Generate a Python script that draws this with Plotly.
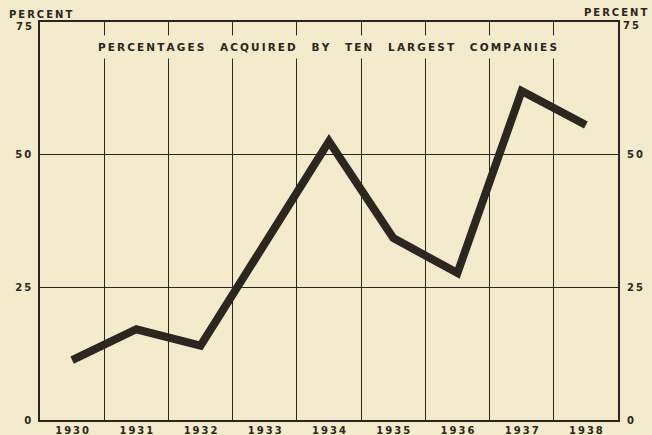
import plotly.graph_objects as go

years = [1930, 1931, 1932, 1933, 1934, 1935, 1936, 1937, 1938]
pct = [11.3, 17.1, 14.0, 33.0, 52.5, 34.3, 27.7, 62.0, 55.6]
year_labels = ["1930", "1931", "1932", "1933", "1934", "1935", "1936", "1937", "1938"]
y_ticks = [0, 25, 50, 75]
y_tick_labels = ["0", "25", "50", ""]
title_text = "PERCENTAGES ACQUIRED BY TEN LARGEST COMPANIES"
unit_text = "PERCENT"
top_label = "75"

TS = "\u2009"


def spaced(s, word_gap="\u2002\u2002"):
    return word_gap.join(TS.join(list(w)) for w in s.split(" "))


bg = "#f3ebcc"
ink = "#2b2620"
font_family = "DejaVu Sans"

fig = go.Figure()
fig.add_trace(go.Scatter(
    x=years, y=pct, mode="lines",
    line=dict(color=ink, width=8),
    hoverinfo="skip", showlegend=False,
))
fig.add_trace(go.Scatter(
    x=years, y=pct, mode="lines", yaxis="y2",
    line=dict(color=bg, width=0), opacity=0,
    hoverinfo="skip", showlegend=False,
))

tick_font = dict(family=font_family, size=10, color=ink, weight="bold")

fig.update_layout(
    width=652, height=435,
    margin=dict(l=40, r=34, t=22, b=15),
    paper_bgcolor=bg, plot_bgcolor=bg,
    showlegend=False,
    xaxis=dict(
        range=[1929.5, 1938.5],
        tickmode="array", tickvals=years,
        ticktext=[spaced(t) for t in year_labels],
        tickfont=tick_font,
        showgrid=False, zeroline=False,
        showline=True, linecolor=ink, linewidth=1.5, mirror=True,
        ticks="", ticklabelstandoff=0, automargin=False,
        minor=dict(tickmode="linear", tick0=1929.5, dtick=1,
                   showgrid=True, gridcolor=ink, gridwidth=1, ticks=""),
    ),
    yaxis=dict(
        range=[0, 75],
        tickmode="array", tickvals=y_ticks,
        ticktext=[spaced(t) for t in y_tick_labels],
        tickfont=tick_font,
        showgrid=True, gridcolor=ink, gridwidth=1, zeroline=False,
        showline=True, linecolor=ink, linewidth=1.5, mirror=True,
        ticks="", ticklabelstandoff=5, automargin=False,
    ),
    yaxis2=dict(
        range=[0, 75], overlaying="y", side="right",
        tickmode="array", tickvals=y_ticks,
        ticktext=[spaced(t) for t in y_tick_labels],
        tickfont=tick_font,
        showgrid=False, zeroline=False, showline=False,
        ticks="", ticklabelstandoff=8, automargin=False,
    ),
)

ann_font = dict(family=font_family, size=10, color=ink, weight="bold")
fig.add_annotation(
    text=spaced(title_text, word_gap="\u2002\u2002\u2002"),
    xref="paper", yref="y", x=0.498, y=70.2,
    showarrow=False, bgcolor=bg, borderpad=5,
    font=dict(family=font_family, size=10.5, color=ink, weight="bold"),
)
fig.add_annotation(text=spaced(unit_text), xref="paper", yref="paper",
                   x=-0.057, y=1.02, xanchor="left", yanchor="middle",
                   showarrow=False, font=ann_font)
fig.add_annotation(text=spaced(unit_text), xref="paper", yref="paper",
                   x=1.054, y=1.025, xanchor="right", yanchor="middle",
                   showarrow=False, font=ann_font)
fig.add_annotation(text=spaced(top_label), xref="paper", yref="paper",
                   x=-0.011, y=0.988, xanchor="right", yanchor="middle",
                   showarrow=False, font=ann_font)
fig.add_annotation(text=spaced(top_label), xref="paper", yref="paper",
                   x=1.040, y=0.992, xanchor="right", yanchor="middle",
                   showarrow=False, font=ann_font)

fig.write_html(
    "out.html",
    config={"displayModeBar": False},
    post_script="document.body.style.margin='0';document.body.style.padding='0';document.body.style.overflow='hidden';",
)
